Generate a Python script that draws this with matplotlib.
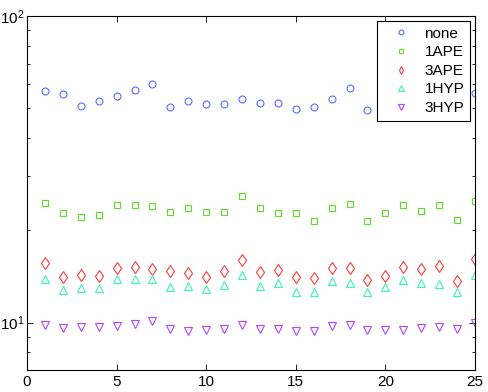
import matplotlib
matplotlib.use("Agg")
import matplotlib.pyplot as plt
import numpy as np

plt.rcParams['font.family'] = ['Liberation Sans', 'DejaVu Sans']
plt.rcParams['mathtext.fontset'] = 'custom'
plt.rcParams['mathtext.rm'] = 'Liberation Sans'
plt.rcParams['mathtext.it'] = 'Liberation Sans'

x = list(range(1, 26))
none = [56.8, 55.6, 50.8, 52.8, 54.8, 57.3, 59.9, 50.4, 52.7, 51.6, 51.5, 53.6,
        52.0, 52.1, 49.6, 50.5, 53.5, 58.4, 49.5, 51.0, 53.0, 52.0, 54.0, 50.0, 56.0]
ape1 = [24.6, 22.8, 22.1, 22.5, 24.1, 24.1, 24.0, 23.0, 23.7, 23.0, 23.0, 25.8,
        23.7, 22.8, 22.7, 21.5, 23.7, 24.4, 21.5, 22.8, 24.1, 23.2, 24.2, 21.6, 25.0]
ape3 = [15.6, 14.1, 14.3, 14.2, 15.1, 15.2, 15.0, 14.7, 14.5, 14.1, 14.7, 16.0,
        14.6, 14.8, 14.1, 14.0, 15.1, 15.05, 13.8, 14.2, 15.2, 14.9, 15.25, 13.65, 16.1]
hyp1 = [13.9, 12.8, 13.0, 13.0, 13.85, 13.9, 13.85, 13.1, 13.2, 12.9, 13.3, 14.3,
        13.15, 13.5, 12.6, 12.6, 13.7, 13.45, 12.6, 13.1, 13.8, 13.45, 13.4, 12.6, 14.3]
hyp3 = [9.8, 9.63, 9.66, 9.68, 9.75, 9.88, 10.08, 9.52, 9.4, 9.45, 9.52, 9.8,
        9.49, 9.52, 9.35, 9.35, 9.75, 9.83, 9.45, 9.45, 9.47, 9.61, 9.68, 9.54, 10.0]

series = [
    ("none", none, 'o', 5, '#5a6eff'),
    ("1APE", ape1, 's', 5, '#5fdc28'),
    ("3APE", ape3, 'd', 6, '#ff3c3c'),
    ("1HYP", hyp1, '^', 5.5, '#3cf5b0'),
    ("3HYP", hyp3, 'v', 5.5, '#b045ff'),
]

fig = plt.figure(figsize=(4.88, 3.92), dpi=100)
ax = fig.add_axes([0.0553, 0.0561, 0.918, 0.903])
for name, vals, m, ms, c in series:
    ax.plot(x, vals, linestyle='none', marker=m, markersize=ms,
            markerfacecolor='none', markeredgecolor=c, markeredgewidth=0.8, label=name)

ax.set_yscale('log')
ax.set_xlim(0, 25)
ax.set_ylim(7, 100)
ax.set_xticks([0, 5, 10, 15, 20, 25])
ax.set_yticks([10, 100])
ax.tick_params(which='both', direction='in', top=True, right=True, labelsize=11)
ax.tick_params(which='major', length=4, width=0.6)
ax.tick_params(which='minor', length=2.5, width=0.6)
ax.tick_params(axis='y', which='both', pad=1.5)
ax.tick_params(axis='y', which='minor', labelleft=False)
for s in ax.spines.values():
    s.set_linewidth(0.8)

leg = ax.legend(loc='upper right', fontsize=11, markerscale=0.7, frameon=True,
                fancybox=False, edgecolor='black', framealpha=1,
                borderaxespad=0.3, handlelength=2.4, labelspacing=0.3,
                handletextpad=0.33, borderpad=0.4)
leg.get_frame().set_linewidth(0.8)

fig.savefig('out.png', dpi=100)
